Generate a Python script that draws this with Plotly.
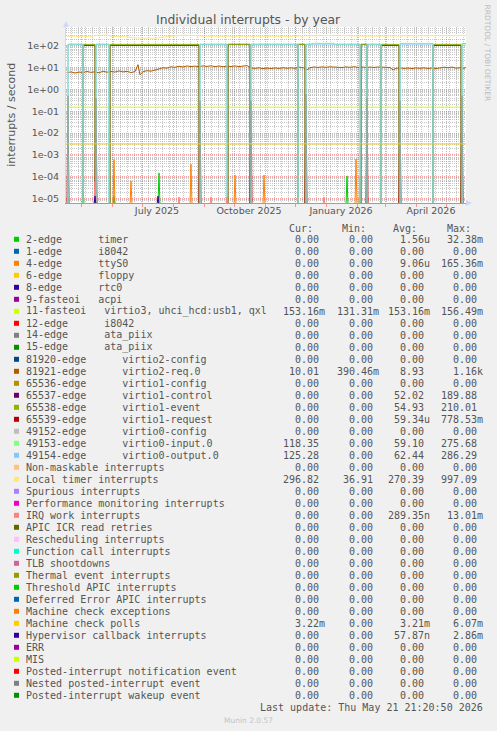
import plotly.graph_objects as go
from datetime import date, timedelta
import math

# ---------------- data ----------------
TITLE = "Individual interrupts - by year"
Y_TITLE = "interrupts / second"
X_RANGE = ["2025-04-16", "2026-05-21"]
X_LABEL_DATES = ["2025-07-16", "2025-10-16", "2026-01-16", "2026-04-16"]
X_LABELS = ["July 2025", "October 2025", "January 2026", "April 2026"]
MONTH_STARTS = ["2025-05-01", "2025-06-01", "2025-07-01", "2025-08-01", "2025-09-01",
                "2025-10-01", "2025-11-01", "2025-12-01", "2026-01-01", "2026-02-01",
                "2026-03-01", "2026-04-01", "2026-05-01"]
Y_TICKS = [1e-5, 1e-4, 1e-3, 1e-2, 1e-1, 1e0, 1e1, 1e2]
Y_TICKTEXT = ["1e-05", "1e-04", "1e-03", "1e-02", "1e-01", "1e+00", "1e+01", "1e+02"]
LAST_UPDATE = "Last update: Thu May 21 21:20:50 2026"
MUNIN_VERSION = "Munin 2.0.57"
RRD_CREDIT = "RRDTOOL / TOBI OETIKER"

# step series: (date the value starts, value)
VIRTIO0_OUT = [("2025-04-17", 0), ("2025-04-18", 118), ("2025-05-03", 0), ("2025-05-16", 118),
               ("2025-05-29", 0), ("2025-08-28", 118), ("2025-09-24", 0), ("2025-10-18", 118),
               ("2025-12-04", 0), ("2025-12-12", 118), ("2026-02-04", 0), ("2026-02-11", 118),
               ("2026-02-25", 0), ("2026-03-16", 118), ("2026-04-18", 0), ("2026-05-17", 125),
               ("2026-05-21", 125)]
VIRTIO0_IN = [("2025-04-17", 0), ("2025-04-18", 112), ("2025-05-03", 0), ("2025-05-16", 112),
              ("2025-05-29", 0), ("2025-08-28", 112), ("2025-09-24", 0), ("2025-10-18", 112),
              ("2025-12-04", 0), ("2025-12-12", 112), ("2025-12-18", 128), ("2026-01-09", 112),
              ("2026-02-04", 0), ("2026-02-11", 112), ("2026-02-25", 0), ("2026-03-16", 127),
              ("2026-04-18", 0), ("2026-05-17", 118), ("2026-05-21", 118)]
VIRTIO1_EVENT = [("2025-04-17", 0), ("2025-05-03", 115), ("2025-05-15", 0), ("2025-05-30", 115),
                 ("2025-08-27", 0), ("2025-09-25", 115), ("2025-10-17", 0), ("2025-12-04", 115),
                 ("2025-12-11", 0), ("2026-02-05", 115), ("2026-02-11", 0), ("2026-02-25", 115),
                 ("2026-03-15", 0), ("2026-04-18", 115), ("2026-05-16", 0), ("2026-05-21", 0)]
VIRTIO1_CONTROL = [("2025-04-17", 0), ("2025-05-03", 104), ("2025-05-15", 0), ("2025-05-30", 104),
                   ("2025-08-27", 0), ("2025-09-25", 115), ("2025-10-17", 0), ("2025-12-04", 115),
                   ("2025-12-11", 0), ("2026-02-05", 115), ("2026-02-11", 0), ("2026-02-25", 104),
                   ("2026-03-15", 0), ("2026-04-18", 104), ("2026-05-16", 0), ("2026-05-21", 0)]

# continuous series: (date, value)
IRQ11 = [("2025-04-16", 0.153), ("2026-05-21", 0.153)]
MC_POLLS = [("2025-04-16", 0.0032), ("2026-05-21", 0.0032)]
LOCAL_TIMER = [("2025-04-17", 270), ("2025-05-10", 270), ("2025-05-18", 300), ("2025-05-26", 305),
               ("2025-06-02", 265), ("2025-06-15", 255), ("2025-06-25", 225), ("2025-07-05", 215),
               ("2025-07-15", 220), ("2025-07-22", 250), ("2025-08-01", 280), ("2025-08-10", 300),
               ("2025-08-20", 295), ("2025-09-01", 275), ("2025-09-20", 270), ("2025-10-05", 275),
               ("2025-10-20", 265), ("2025-11-05", 272), ("2025-11-20", 268), ("2025-12-05", 275),
               ("2025-12-20", 280), ("2026-01-05", 290), ("2026-01-15", 300), ("2026-01-25", 280),
               ("2026-02-10", 272), ("2026-02-25", 275), ("2026-03-10", 280), ("2026-03-25", 278),
               ("2026-04-10", 282), ("2026-04-25", 285), ("2026-05-10", 288), ("2026-05-21", 297)]
VIRTIO2_REQ = [("2025-04-17", 5.8), ("2025-04-21", 6.3), ("2025-04-25", 5.6), ("2025-04-29", 6.2),
               ("2025-05-03", 5.9), ("2025-05-07", 6.6), ("2025-05-11", 6.0), ("2025-05-15", 6.4),
               ("2025-05-19", 5.7), ("2025-05-23", 6.8), ("2025-05-27", 6.1), ("2025-05-31", 6.6),
               ("2025-06-04", 6.2), ("2025-06-08", 7.0), ("2025-06-12", 6.3), ("2025-06-16", 6.7),
               ("2025-06-20", 5.9), ("2025-06-24", 6.5), ("2025-06-27", 13.5), ("2025-06-29", 4.6),
               ("2025-07-02", 6.4), ("2025-07-06", 7.2), ("2025-07-10", 6.8), ("2025-07-14", 7.8),
               ("2025-07-18", 8.6), ("2025-07-22", 9.8), ("2025-07-26", 9.4), ("2025-07-30", 10.8),
               ("2025-08-03", 10.2), ("2025-08-07", 11.4), ("2025-08-11", 10.6), ("2025-08-15", 11.8),
               ("2025-08-19", 11.0), ("2025-08-23", 11.6), ("2025-08-27", 10.8), ("2025-08-31", 11.9),
               ("2025-09-04", 11.2), ("2025-09-08", 12.0), ("2025-09-12", 11.0), ("2025-09-16", 11.7),
               ("2025-09-20", 10.9), ("2025-09-24", 11.5), ("2025-09-28", 11.1), ("2025-10-02", 11.8),
               ("2025-10-06", 11.0), ("2025-10-10", 11.6), ("2025-10-14", 12.2), ("2025-10-18", 9.6),
               ("2025-10-22", 9.2), ("2025-10-26", 9.7), ("2025-10-30", 8.9), ("2025-11-03", 9.5),
               ("2025-11-07", 9.0), ("2025-11-11", 9.6), ("2025-11-15", 9.1), ("2025-11-19", 9.8),
               ("2025-11-23", 9.3), ("2025-11-27", 9.7), ("2025-12-01", 9.2), ("2025-12-05", 10.4),
               ("2025-12-09", 10.0), ("2025-12-13", 7.9), ("2025-12-16", 9.8), ("2025-12-20", 10.6),
               ("2025-12-24", 10.1), ("2025-12-28", 10.7), ("2026-01-01", 10.2), ("2026-01-05", 10.8),
               ("2026-01-09", 10.3), ("2026-01-13", 10.6), ("2026-01-17", 10.0), ("2026-01-21", 10.7),
               ("2026-01-25", 10.2), ("2026-01-29", 10.9), ("2026-02-02", 10.1), ("2026-02-06", 10.6),
               ("2026-02-10", 10.0), ("2026-02-14", 10.5), ("2026-02-18", 10.1), ("2026-02-22", 10.6),
               ("2026-02-26", 10.2), ("2026-03-02", 10.5), ("2026-03-06", 10.0), ("2026-03-09", 7.8),
               ("2026-03-12", 9.2), ("2026-03-16", 9.6), ("2026-03-20", 9.1), ("2026-03-24", 9.5),
               ("2026-03-28", 9.0), ("2026-04-01", 9.6), ("2026-04-05", 9.2), ("2026-04-09", 9.7),
               ("2026-04-13", 9.1), ("2026-04-17", 9.5), ("2026-04-21", 9.0), ("2026-04-25", 9.6),
               ("2026-04-29", 10.4), ("2026-05-03", 9.8), ("2026-05-07", 10.5), ("2026-05-11", 9.4),
               ("2026-05-15", 9.8), ("2026-05-19", 9.3), ("2026-05-21", 10.0)]

# single-day spikes: (date, value)
TIMER_SPIKES = [("2025-05-03", 2.5e-5), ("2025-06-03", 1.3e-5), ("2025-07-18", 1.5e-4),
                ("2026-01-22", 1.1e-4), ("2026-02-04", 1.2e-5)]
TTYS0_SPIKES = [("2025-06-03", 6.0e-4), ("2025-06-20", 6.5e-5), ("2025-08-19", 3.8e-4),
                ("2025-10-02", 1.2e-4), ("2025-10-31", 1.2e-4), ("2026-01-31", 6.5e-4),
                ("2026-02-04", 1.0e-4)]
IRQ_WORK_SPIKES = [("2025-05-15", 6.0e-5), ("2025-08-07", 1.2e-5), ("2025-09-08", 1.2e-5),
                   ("2025-09-24", 1.2e-5), ("2025-12-30", 1.2e-5)]
HYPERVISOR_SPIKES = [("2025-05-15", 1.3e-5), ("2025-07-17", 1.3e-5)]
VIRTIO1_REQ_SPIKES = [("2025-04-18", 0.5), ("2025-05-16", 0.4), ("2025-08-28", 0.3),
                      ("2025-10-18", 0.3), ("2025-12-12", 0.6), ("2026-02-11", 0.4),
                      ("2026-03-16", 0.3), ("2026-05-17", 0.5)]

# legend rows: label, colour, cur, min, avg, max
LEGEND_LABELS = [
    "2-edge      timer", "1-edge      i8042", "4-edge      ttyS0", "6-edge      floppy",
    "8-edge      rtc0", "9-fasteoi   acpi", "11-fasteoi   virtio3, uhci_hcd:usb1, qxl",
    "12-edge      i8042", "14-edge      ata_piix", "15-edge      ata_piix",
    "81920-edge      virtio2-config", "81921-edge      virtio2-req.0",
    "65536-edge      virtio1-config", "65537-edge      virtio1-control",
    "65538-edge      virtio1-event", "65539-edge      virtio1-request",
    "49152-edge      virtio0-config", "49153-edge      virtio0-input.0",
    "49154-edge      virtio0-output.0", "Non-maskable interrupts", "Local timer interrupts",
    "Spurious interrupts", "Performance monitoring interrupts", "IRQ work interrupts",
    "APIC ICR read retries", "Rescheduling interrupts", "Function call interrupts",
    "TLB shootdowns", "Thermal event interrupts", "Threshold APIC interrupts",
    "Deferred Error APIC interrupts", "Machine check exceptions", "Machine check polls",
    "Hypervisor callback interrupts", "ERR", "MIS", "Posted-interrupt notification event",
    "Nested posted-interrupt event", "Posted-interrupt wakeup event"]
LEGEND_COLORS = [
    "#00CC00", "#0066B3", "#FF8000", "#FFCC00", "#330099", "#990099", "#CCFF00", "#FF0000",
    "#808080", "#008F00", "#00487D", "#B35A00", "#B38F00", "#6B006B", "#8FB300", "#B30000",
    "#BEBEBE", "#80FF80", "#80C9FF", "#FFC080", "#FFE680", "#AA80FF", "#EE00CC", "#FF8080",
    "#666600", "#FFBFFF", "#00FFCC", "#CC6699", "#999900", "#00CC00", "#0066B3", "#FF8000",
    "#FFCC00", "#330099", "#990099", "#CCFF00", "#FF0000", "#808080", "#008F00"]
Z = "0.00"
STAT_CUR = [Z, Z, Z, Z, Z, Z, "153.16m", Z, Z, Z, Z, "10.01", Z, Z, Z, Z, Z, "118.35", "125.28",
            Z, "296.82", Z, Z, Z, Z, Z, Z, Z, Z, Z, Z, Z, "3.22m", Z, Z, Z, Z, Z, Z]
STAT_MIN = [Z, Z, Z, Z, Z, Z, "131.31m", Z, Z, Z, Z, "390.46m", Z, Z, Z, Z, Z, Z, Z,
            Z, "36.91", Z, Z, Z, Z, Z, Z, Z, Z, Z, Z, Z, Z, Z, Z, Z, Z, Z, Z]
STAT_AVG = ["1.56u", Z, "9.06u", Z, Z, Z, "153.16m", Z, Z, Z, Z, "8.93", Z, "52.02", "54.93",
            "59.34u", Z, "59.10", "62.44", Z, "270.39", Z, Z, "289.35n", Z, Z, Z, Z, Z, Z, Z, Z,
            "3.21m", "57.87n", Z, Z, Z, Z, Z]
STAT_MAX = ["32.38m", Z, "165.36m", Z, Z, Z, "156.49m", Z, Z, Z, Z, "1.16k", Z, "189.88",
            "210.01", "778.53m", Z, "275.68", "286.29", Z, "997.09", Z, Z, "13.01m", Z, Z, Z, Z,
            Z, Z, Z, Z, "6.07m", "2.86m", Z, Z, Z, Z, Z]
STAT_HEADERS = ["Cur:", "Min:", "Avg:", "Max:"]

# which legend row each drawn series belongs to (drawn in legend order)
SERIES = {0: ("spike", TIMER_SPIKES), 2: ("spike", TTYS0_SPIKES), 6: ("line", IRQ11),
          11: ("line", VIRTIO2_REQ), 13: ("step", VIRTIO1_CONTROL), 14: ("step", VIRTIO1_EVENT),
          15: ("spike", VIRTIO1_REQ_SPIKES), 17: ("step", VIRTIO0_IN), 18: ("step", VIRTIO0_OUT),
          20: ("line", LOCAL_TIMER), 23: ("spike", IRQ_WORK_SPIKES), 32: ("line", MC_POLLS),
          33: ("spike", HYPERVISOR_SPIKES)}

# ---------------- styling / layout ----------------
W, H = 497, 731
PL, PR, PT, PB = 66, 466, 27, 203
Y_RANGE = [-5.2, 2.855]
FLOOR = 10 ** -5.3          # zero values sit just below the log axis floor
MONO = "DejaVu Sans Mono"
SANS = "DejaVu Sans"
FONT_C = "#555555"
AXIS_C = "#CFD6F8"
MGRID = "rgba(240,80,80,0.55)"
GRID = "rgba(130,130,130,0.45)"


def px_x(p):
    return (p - PL) / (PR - PL)


def px_y(p):
    return (PB - p) / (PB - PT)


def step_xy(points):
    return [d for d, v in points], [v if v > 0 else FLOOR for d, v in points]


def spike_xy(points):
    xs, ys = [], []
    for d, v in points:
        dd = date.fromisoformat(d)
        xs += [(dd - timedelta(days=1)).isoformat(), d, (dd + timedelta(days=1)).isoformat(), None]
        ys += [FLOOR, v, FLOOR, None]
    return xs, ys


fig = go.Figure()
for idx in sorted(SERIES):
    kind, pts = SERIES[idx]
    if kind == "spike":
        xs, ys = spike_xy(pts)
        shape = "linear"
    else:
        xs, ys = step_xy(pts)
        shape = "hv" if kind == "step" else "linear"
    fig.add_trace(go.Scatter(x=xs, y=ys, mode="lines", line=dict(color=LEGEND_COLORS[idx], width=1, shape=shape),
                             hoverinfo="skip", showlegend=False, connectgaps=False))

# grid positions
week_lines = []
d = date(2025, 4, 21)
while d <= date(2026, 5, 21):
    week_lines.append(d.isoformat())
    d += timedelta(days=7)
y_minor = []
for n in range(-6, 3):
    for k in range(2, 10):
        v = k * 10 ** n
        if Y_RANGE[0] <= math.log10(v) <= Y_RANGE[1]:
            y_minor.append(v)

fig.update_layout(
    width=W, height=H,
    margin=dict(l=PL, r=W - PR, t=PT, b=H - PB, pad=0, autoexpand=False),
    paper_bgcolor="#F0F0F0", plot_bgcolor="#FFFFFF",
    showlegend=False,
    xaxis=dict(type="date", range=X_RANGE, tickmode="array", tickvals=MONTH_STARTS,
               showticklabels=False, showgrid=True, gridcolor=MGRID, griddash="1px,1px", gridwidth=1,
               ticks="outside", ticklen=3, tickcolor=MGRID,
               minor=dict(tickmode="array", tickvals=week_lines, showgrid=True, gridcolor=GRID,
                          griddash="1px,1px", gridwidth=1, ticks=""),
               showline=True, linecolor="#7DB394", linewidth=1, zeroline=False, fixedrange=True),
    xaxis2=dict(type="date", range=X_RANGE, overlaying="x", side="bottom", anchor="y",
                tickmode="array", tickvals=X_LABEL_DATES, ticktext=X_LABELS, showgrid=False,
                ticks="", showline=False, zeroline=False, fixedrange=True,
                tickfont=dict(family=SANS, size=9.5, color=FONT_C)),
    yaxis=dict(type="log", range=Y_RANGE, tickmode="array", tickvals=Y_TICKS, ticktext=Y_TICKTEXT,
               showgrid=True, gridcolor=MGRID, griddash="1px,1px", gridwidth=1,
               minor=dict(tickmode="array", tickvals=y_minor, showgrid=True, gridcolor=GRID,
                          griddash="1px,1px", gridwidth=1, ticks=""),
               ticks="", ticklabelstandoff=4, showline=True, linecolor=AXIS_C, linewidth=1,
               zeroline=False, fixedrange=True,
               tickfont=dict(family=SANS, size=9.5, color=FONT_C)),
)
# dummy trace so the label axis is drawn
fig.add_trace(go.Scatter(x=[], y=[], xaxis="x2", yaxis="y", showlegend=False, hoverinfo="skip"))

annotations = []
shapes = []


def ann(xp, yp, text, size=10, family=MONO, color=FONT_C, xanchor="left", yanchor="middle", angle=0):
    annotations.append(dict(x=px_x(xp), y=px_y(yp), xref="paper", yref="paper", text=text,
                            showarrow=False, xanchor=xanchor, yanchor=yanchor, textangle=angle,
                            font=dict(family=family, size=size, color=color),
                            borderpad=0, borderwidth=0))


ann(248.5, 19.5, TITLE, size=12.4, family=SANS, color=FONT_C, xanchor="center")
ann(10.7, 115, Y_TITLE, size=11, family=SANS, color=FONT_C, xanchor="center", angle=-90)
ann(487.5, 53, RRD_CREDIT, size=7.5, family=SANS, color="#BBBBBB", xanchor="center", angle=90)

# legend table
ROW0, ROWH = 239.3, 12.0
HEAD_Y = 228.3
for x0, h in zip([289.3, 341.7, 393.3, 446.7], STAT_HEADERS):
    ann(x0, HEAD_Y, h)
col_right = [319.3, 372.5, 424.3, 477.3]
CH = 6.02
for i, label in enumerate(LEGEND_LABELS):
    yc = ROW0 + ROWH * i
    shapes.append(dict(type="rect", xref="paper", yref="paper",
                       x0=px_x(14), x1=px_x(19), y0=px_y(yc - 2.5), y1=px_y(yc + 2.5),
                       fillcolor=LEGEND_COLORS[i], line=dict(width=0)))
    ann(26.3, yc, label.replace(" ", "\u00a0"))
    for xr, col in zip(col_right, [STAT_CUR, STAT_MIN, STAT_AVG, STAT_MAX]):
        s = col[i]
        xe = xr + CH if s[-1].isalpha() else xr
        ann(xe, yc, s, xanchor="right")

ann(482.7, 707.3, LAST_UPDATE.replace(" ", "\u00a0"), xanchor="right")
ann(248.5, 720, MUNIN_VERSION, size=7.5, family=SANS, color="#C4C4C4", xanchor="center")

# axis arrows
shapes.append(dict(type="path", xref="paper", yref="paper",
                   path="M {},{} L {},{} L {},{} Z".format(px_x(63), px_y(27), px_x(66), px_y(21),
                                                           px_x(69), px_y(27)),
                   fillcolor=AXIS_C, line=dict(width=0)))
shapes.append(dict(type="path", xref="paper", yref="paper",
                   path="M {},{} L {},{} L {},{} Z".format(px_x(466), px_y(200), px_x(472), px_y(203),
                                                           px_x(466), px_y(206)),
                   fillcolor=AXIS_C, line=dict(width=0)))

fig.update_layout(annotations=annotations, shapes=shapes)
fig.write_html("out.html", config={"displayModeBar": False, "staticPlot": True},
               post_script="document.body.style.margin='0';document.body.style.overflow='hidden';")
